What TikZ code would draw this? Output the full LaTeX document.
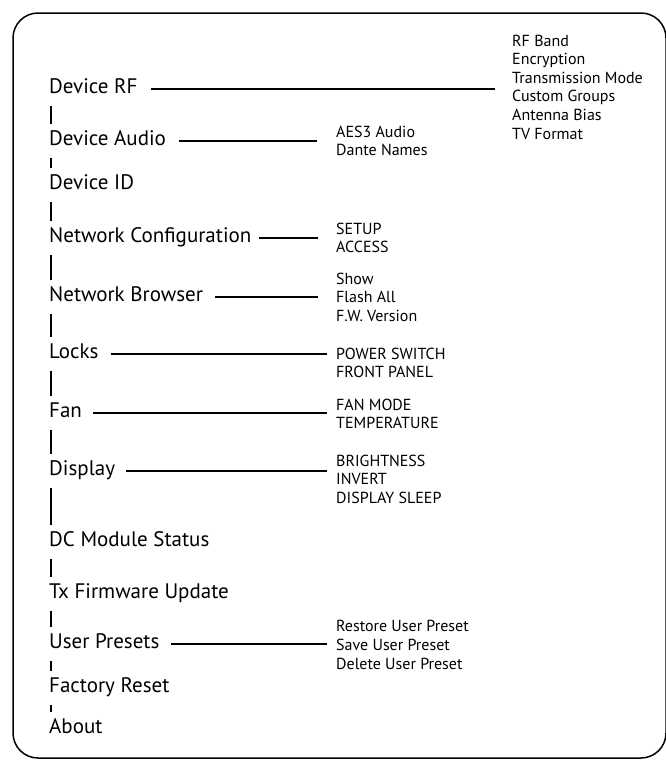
\documentclass[tikz,border=0pt]{standalone}
\usepackage{fontspec}
\setmainfont{PT Sans}
\begin{document}
\begin{tikzpicture}[x=1pt,y=-1pt,
  mainitem/.style={anchor=west, inner xsep=0pt, inner ysep=0pt, text height=13pt, text depth=5pt, font=\fontsize{21}{23}\selectfont},
  subitem/.style={anchor=west, inner sep=0pt, align=left, font=\fontsize{16}{18.6}\selectfont},
  conn/.style={line width=1.4pt},
  vbar/.style={conn, shorten <=8pt, shorten >=8pt},
  frame/.style={line width=1.5pt, rounded corners=25pt}]
\useasboundingbox (0,0) rectangle (665,777);
\draw[frame] (13,13) rectangle (666,758);
\coordinate (bar) at (51,0);
% main column
\node[mainitem] (rf)  at (49,89)  {Device RF};
\node[mainitem] (au)  at (49,141) {Device Audio};
\node[mainitem] (id)  at (49,185) {Device ID};
\node[mainitem] (nc)  at (49,238) {Network Configuration};
\node[mainitem] (nb)  at (49,297) {Network Browser};
\node[mainitem] (lk)  at (49,354) {Locks};
\node[mainitem] (fan) at (49,413) {Fan};
\node[mainitem] (dp)  at (49,471) {Display};
\node[mainitem] (dc)  at (49,542) {DC Module Status};
\node[mainitem] (tx)  at (49,594) {Tx Firmware Update};
\node[mainitem] (up)  at (49,644) {User Presets};
\node[mainitem] (fr)  at (49,688) {Factory Reset};
\node[mainitem] (ab)  at (49,729) {About};
% sub items
\node[subitem] (rfs) at (512,87)  {RF Band\\Encryption\\Transmission Mode\\Custom Groups\\Antenna Bias\\TV Format};
\node[subitem] (aus) at (336,141) {AES3 Audio\\Dante Names};
\node[subitem] (ncs) at (336,238) {SETUP\\ACCESS};
\node[subitem] (nbs) at (336,297) {Show\\Flash All\\F.W. Version};
\node[subitem] (lks) at (336,363) {POWER SWITCH\\FRONT PANEL};
\node[subitem] (fans) at (336,414) {FAN MODE\\TEMPERATURE};
\node[subitem] (dps) at (336,479) {BRIGHTNESS\\INVERT\\DISPLAY SLEEP};
\node[subitem] (ups) at (336,645) {Restore User Preset\\Save User Preset\\Delete User Preset};
% vertical connectors
\foreach \a/\b in {rf/au, au/id, id/nc, nc/nb, nb/lk, lk/fan, fan/dp, dp/dc, dc/tx, tx/up, up/fr, fr/ab}
  \draw[vbar] (\a.south -| bar) -- (\b.north -| bar);
% horizontal connectors
\draw[conn, shorten <=13pt, shorten >=17pt] (rf.east) -- (rf.east -| rfs.west);
\draw[conn, shorten <=13pt, shorten >=19pt] (au.east) -- (au.east -| aus.west);
\draw[conn, shorten <=7pt,  shorten >=18pt] (nc.east) -- (nc.east -| ncs.west);
\draw[conn, shorten <=12pt, shorten >=18pt] (nb.east) -- (nb.east -| nbs.west);
\draw[conn, shorten <=12pt, shorten >=9pt]  (lk.east) -- (lk.east -| lks.west);
\draw[conn, shorten <=11pt, shorten >=9pt]  (fan.east) -- (fan.east -| fans.west);
\draw[conn, shorten <=11pt, shorten >=9pt]  (dp.east) -- (dp.east -| dps.west);
\draw[conn, shorten <=11pt, shorten >=9pt]  (up.east) -- (up.east -| ups.west);
\end{tikzpicture}
\end{document}
